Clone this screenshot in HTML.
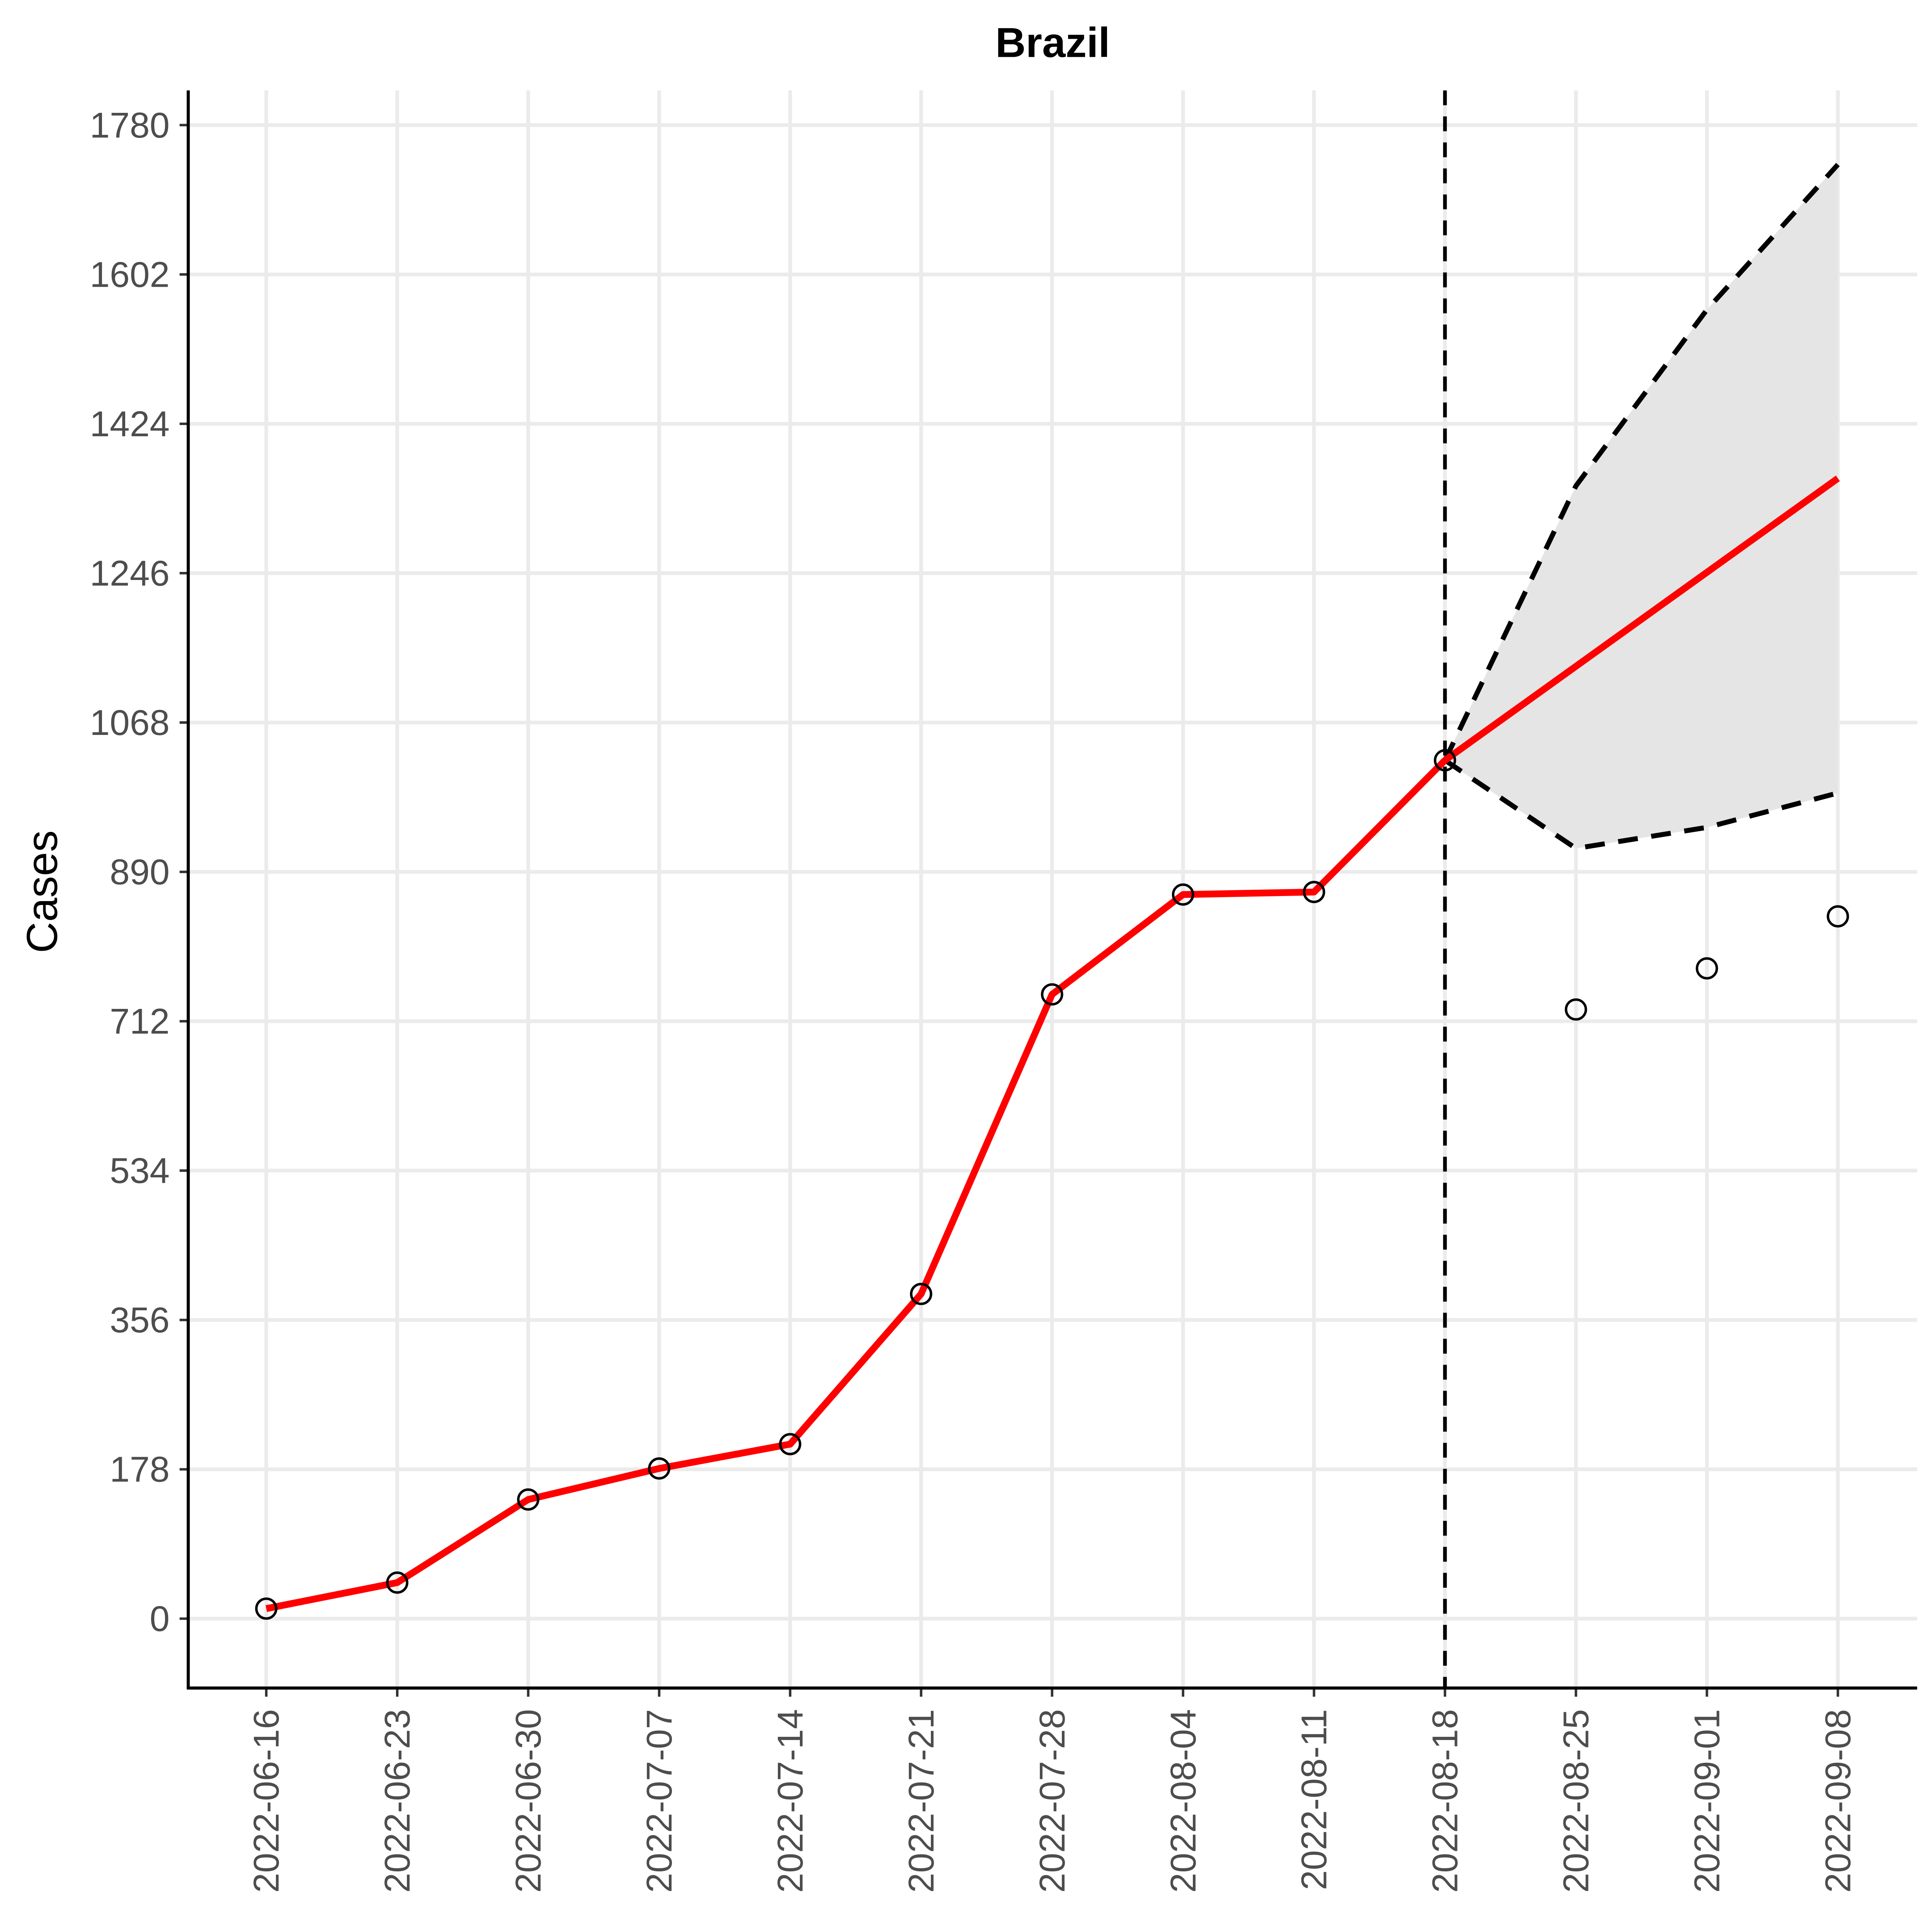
<!DOCTYPE html>
<html><head><meta charset="utf-8"><style>
html,body{margin:0;padding:0;background:#fff;overflow:hidden;width:100vw;height:100vh}
svg{display:block;width:100vw;height:100vh}
text{font-family:"Liberation Sans",Arial,sans-serif}
</style></head><body>
<svg id="chart" viewBox="0 0 1560 1560" preserveAspectRatio="none" xmlns="http://www.w3.org/2000/svg">
<text x="850" y="46" text-anchor="middle" font-size="34" font-weight="bold">Brazil</text>
<text transform="translate(46,720) rotate(-90)" text-anchor="middle" font-size="35">Cases</text>
<g id="grid"></g><g id="band"></g><g id="lines"></g><g id="pts"></g><g id="axes"></g>
</svg>
<script>
const dates=["2022-06-16","2022-06-23","2022-06-30","2022-07-07","2022-07-14","2022-07-21","2022-07-28","2022-08-04","2022-08-11","2022-08-18","2022-08-25","2022-09-01","2022-09-08"];
const observed=[12,43,142,179,208,387,744,863,866,1023,726,775,837];
const fitted=[12,43,142,179,208,387,744,863,866,1023];
const forecast=[1023,1135,1247,1359];
const upper=[1023,1350,1560,1733];
const lower=[1023,918,943,984];
const yTicks=[0,178,356,534,712,890,1068,1246,1424,1602,1780];
const forecastStart=9;
const ns="http://www.w3.org/2000/svg";
const X=i=>215+i*105.75;
const Y=v=>1307-v*(1206/1780);
function mk(tag,attrs,parent){const e=document.createElementNS(ns,tag);for(const k in attrs)e.setAttribute(k,attrs[k]);document.getElementById(parent).appendChild(e);return e;}
yTicks.forEach(t=>{
 const l=mk("line",{x1:152,x2:1548,y1:Y(t),y2:Y(t),stroke:"#ebebeb","stroke-width":3},"grid");
 
 
 const tk=mk("line",{x1:145,x2:152,y1:Y(t),y2:Y(t),stroke:"#333","stroke-width":2},"axes");
 
 
 const tx=mk("text",{x:137,y:Y(t)+10,"text-anchor":"end","font-size":29,fill:"#4d4d4d"},"axes");
 tx.textContent=t;
 
 
});
dates.forEach((d,i)=>{
 const l=mk("line",{x1:X(i),x2:X(i),y1:73,y2:1363,stroke:"#ebebeb","stroke-width":3},"grid");
 
 
 const tk=mk("line",{x1:X(i),x2:X(i),y1:1363,y2:1370,stroke:"#333","stroke-width":2},"axes");
 
 
 const tx=mk("text",{transform:`translate(${X(i)+10},1380) rotate(-90)`,"text-anchor":"end","font-size":29,fill:"#4d4d4d"},"axes");
 tx.textContent=d;
 
 
});
let bp=upper.map((v,k)=>X(forecastStart+k)+","+Y(v));
for(let k=lower.length-1;k>=0;k--)bp.push(X(forecastStart+k)+","+Y(lower[k]));
const band=mk("polygon",{points:bp.join(" "),fill:"#e5e5e5"},"band");


const vl=mk("line",{x1:X(forecastStart),x2:X(forecastStart),y1:73,y2:1363,stroke:"#000","stroke-width":3,"stroke-dasharray":"12,9"},"lines");


const up=mk("polyline",{points:upper.map((v,k)=>X(forecastStart+k)+","+Y(v)).join(" "),fill:"none",stroke:"#000","stroke-width":4,"stroke-dasharray":"16,11"},"lines");


const lo=mk("polyline",{points:lower.map((v,k)=>X(forecastStart+k)+","+Y(v)).join(" "),fill:"none",stroke:"#000","stroke-width":4,"stroke-dasharray":"16,11"},"lines");


const fl=mk("polyline",{points:fitted.map((v,i)=>X(i)+","+Y(v)).join(" "),fill:"none",stroke:"#ff0000","stroke-width":5.5,"stroke-linejoin":"round"},"lines");


const fc=mk("polyline",{points:forecast.map((v,k)=>X(forecastStart+k)+","+Y(v)).join(" "),fill:"none",stroke:"#ff0000","stroke-width":5.5},"lines");


observed.forEach((v,i)=>{
 const c=mk("circle",{cx:X(i),cy:Y(v),r:8,fill:"none",stroke:"#000","stroke-width":2},"pts");
 
 
});
const ya=mk("line",{x1:152,x2:152,y1:73,y2:1364,stroke:"#000","stroke-width":2.5},"axes");


const xa=mk("line",{x1:151,x2:1548,y1:1363,y2:1363,stroke:"#000","stroke-width":2.5},"axes");


</script>
</body></html>
